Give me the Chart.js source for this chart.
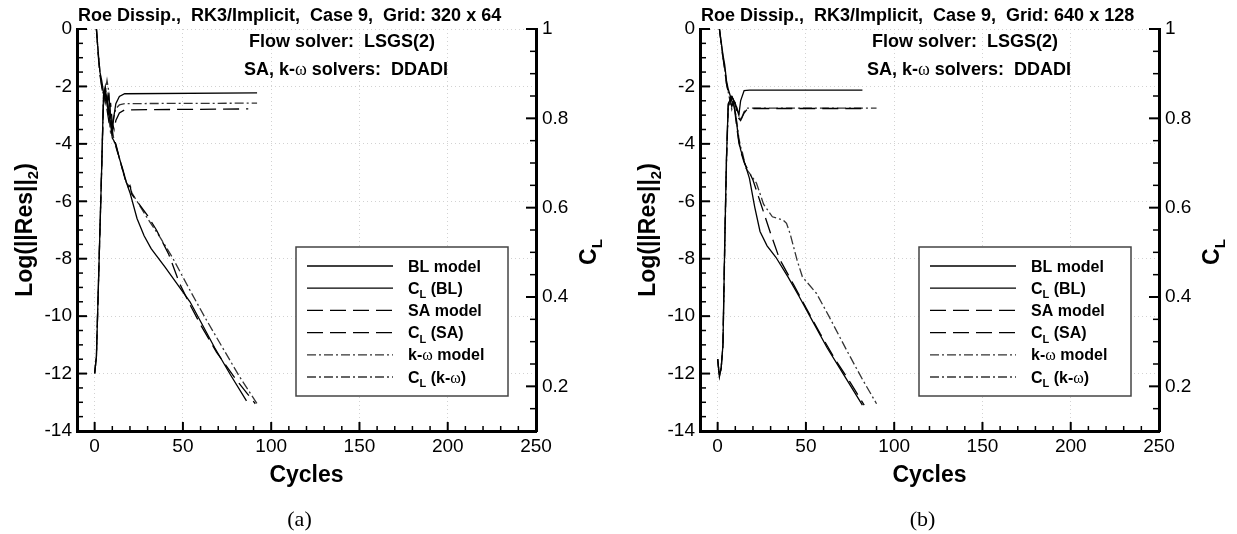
<!DOCTYPE html>
<html>
<head>
<meta charset="utf-8">
<script src="https://cdn.jsdelivr.net/npm/chart.js@4.4.1/dist/chart.umd.min.js"></script>
<style>
  html, body { margin: 0; padding: 0; background: #fff; width: 1237px; height: 534px; overflow: hidden; }
  canvas { position: absolute; top: 0; }
  #chartA { left: 0; }
  #chartB { left: 623px; }
</style>
</head>
<body>
<canvas id="chartA" width="610" height="534"></canvas>
<canvas id="chartB" width="610" height="534"></canvas>
<script>
// tick labels
const xTicks   = [0, 50, 100, 150, 200, 250];
const resTicks = [-14, -12, -10, -8, -6, -4, -2, 0];
const clTicks  = [0.2, 0.4, 0.6, 0.8, 1];

// ---- panel (a), grid 320 x 64 ----
// residuals, log10 ||Res||2
const aBLResX = [1, 2, 3, 4, 5, 6, 7, 8, 9, 10, 11, 12, 14, 16, 18, 20, 24, 28, 32, 40, 47, 54, 61, 68, 77, 86];
const aBLRes  = [0, -0.8, -1.5, -1.8, -2.2, -2.5, -2.3, -2.9, -3.3, -3.8, -3.9, -4.05, -4.5, -4.9, -5.35, -5.7, -6.6, -7.2, -7.65, -8.3, -8.9, -9.5, -10.3, -11.1, -12.05, -12.95];
const aSAResX = [1, 2, 3, 4, 5, 6, 7, 8, 9, 10, 12, 14, 16, 18, 19, 20, 21, 24, 30, 35, 42, 48, 54, 60, 69, 80, 91];
const aSARes  = [0, -0.9, -1.6, -2.0, -2.4, -2.2, -2.8, -3.2, -3.0, -3.7, -4.0, -4.5, -4.95, -5.4, -5.5, -5.45, -5.75, -6.0, -6.5, -7.0, -7.85, -8.85, -9.6, -10.3, -11.25, -12.2, -13.05];
const aKWResX = [1, 2, 3, 4, 5, 6, 7, 8, 9, 10, 11, 12, 14, 16, 18, 19, 20, 21, 24, 30, 37, 44, 54, 63, 72, 82, 92];
const aKWRes  = [0, -0.8, -1.5, -2.0, -2.3, -2.6, -2.4, -3.0, -3.6, -3.5, -3.9, -4.1, -4.5, -4.95, -5.35, -5.45, -5.4, -5.7, -6.0, -6.6, -7.25, -7.95, -9.1, -10.1, -11.05, -12.1, -13.05];
// lift coefficient
const aBLClX = [0, 1, 2, 3, 4, 5, 6, 7, 8, 9, 10, 11, 12, 14, 17, 92];
const aBLCl  = [0.229, 0.267, 0.409, 0.55, 0.691, 0.852, 0.868, 0.833, 0.852, 0.807, 0.775, 0.807, 0.833, 0.849, 0.855, 0.857];
const aSAClX = [0, 1, 2, 3, 4, 5, 6, 7, 8, 9, 10, 11, 12, 14, 17, 87];
const aSACl  = [0.229, 0.267, 0.409, 0.55, 0.691, 0.845, 0.87, 0.84, 0.80, 0.835, 0.79, 0.775, 0.795, 0.812, 0.819, 0.821];
const aKWClX = [0, 1, 2, 3, 4, 5, 6, 7, 8, 9, 10, 11, 12, 14, 17, 92];
const aKWCl  = [0.229, 0.267, 0.409, 0.55, 0.691, 0.84, 0.86, 0.885, 0.86, 0.80, 0.785, 0.805, 0.822, 0.83, 0.833, 0.834];

// ---- panel (b), grid 640 x 128 ----
const bBLResX = [1, 2, 3, 4, 5, 6, 7, 8, 9, 10, 11, 12, 13, 15, 18, 21, 24, 28, 33, 40, 46, 54, 62, 72, 82];
const bBLRes  = [0, -0.45, -0.9, -1.25, -1.8, -2.1, -2.3, -2.5, -2.6, -2.9, -3.4, -3.9, -4.2, -4.6, -5.2, -6.2, -7.05, -7.55, -7.95, -8.65, -9.3, -10.2, -11.1, -12.1, -13.1];
const bSAResX = [1, 2, 3, 4, 5, 6, 7, 8, 9, 10, 11, 12, 13, 15, 18, 20, 24, 30, 35, 43, 50, 58, 66, 75, 83];
const bSARes  = [0, -0.5, -1.0, -1.4, -1.9, -2.2, -2.4, -2.7, -2.5, -3.0, -3.5, -3.95, -4.25, -4.65, -5.0, -5.26, -6.0, -7.12, -8.0, -8.9, -9.7, -10.6, -11.45, -12.3, -13.1];
const bKWResX = [1, 2, 3, 4, 5, 6, 7, 8, 9, 10, 11, 12, 13, 14, 16, 19, 22, 26, 31, 37, 39, 41, 45, 48, 56, 63, 73, 82, 90];
const bKWRes  = [0, -0.5, -1.0, -1.4, -1.9, -2.2, -2.5, -2.8, -2.6, -2.9, -3.3, -3.8, -4.1, -4.3, -4.85, -5.1, -5.37, -6.1, -6.54, -6.65, -6.77, -7.12, -8.05, -8.63, -9.21, -10.0, -11.18, -12.2, -13.05];
const bBLClX = [0, 1, 2, 3, 4, 5, 6, 8, 10, 12, 13, 15, 18, 82];
const bBLCl  = [0.261, 0.222, 0.241, 0.293, 0.518, 0.711, 0.833, 0.849, 0.833, 0.807, 0.839, 0.862, 0.863, 0.863];
const bSAClX = [0, 1, 2, 3, 4, 5, 6, 8, 10, 12, 13, 15, 17, 84];
const bSACl  = [0.261, 0.222, 0.241, 0.293, 0.52, 0.71, 0.83, 0.85, 0.83, 0.80, 0.795, 0.812, 0.822, 0.822];
const bKWClX = [0, 1, 2, 3, 4, 5, 6, 8, 10, 12, 13, 15, 17, 90];
const bKWCl  = [0.261, 0.222, 0.241, 0.293, 0.50, 0.70, 0.825, 0.845, 0.835, 0.81, 0.795, 0.815, 0.823, 0.823];

const seriesLabels = ['BL model', 'C_L (BL)', 'SA model', 'C_L (SA)', 'k-ω model', 'C_L (k-ω)'];

const FONT = '"Liberation Sans", Arial, sans-serif';
const SERIF = '"Liberation Serif", "Times New Roman", serif';
const DASH = [16, 7];
const DASHDOT = [9, 3, 2, 3];

const pts = (xs, ys) => xs.map((x, i) => ({ x, y: ys[i] }));

// split "C_L" and omega into styled runs
function richParts(text, size, bold = true) {
  const w = bold ? 'bold ' : '';
  const parts = [];
  let s = text;
  if (s.startsWith('C_L')) {
    parts.push({ t: 'C', f: `${w}${size}px ${FONT}` });
    parts.push({ t: 'L', f: `${w}${Math.round(size * 0.66)}px ${FONT}`, dy: size * 0.28 });
    s = s.slice(3);
  }
  s.split(/(ω)/).forEach(seg => {
    if (!seg) return;
    if (seg === 'ω') parts.push({ t: 'ω', f: `${size}px ${SERIF}` });
    else parts.push({ t: seg, f: `${w}${size}px ${FONT}` });
  });
  return parts;
}

function drawRich(ctx, parts, x, y, align) {
  let total = 0;
  parts.forEach(p => { ctx.font = p.f; p.w = ctx.measureText(p.t).width; total += p.w; });
  let cx = align === 'center' ? x - total / 2 : x;
  ctx.textBaseline = 'alphabetic';
  ctx.textAlign = 'left';
  parts.forEach(p => { ctx.font = p.f; ctx.fillText(p.t, cx, y + (p.dy || 0)); cx += p.w; });
}

// inward ticks, in-plot notes, axis titles, legend box, caption
const decor = {
  id: 'decor',
  afterDraw(chart, args, opts) {
    const { ctx, chartArea: area } = chart;
    const xs = chart.scales.x, ys = chart.scales.y, y2 = chart.scales.y2;
    const L = area.left;
    ctx.save();
    ctx.strokeStyle = '#000';
    ctx.fillStyle = '#000';

    // ticks pointing into the plot
    for (let v = 0; v <= 250; v += 10) {
      const px = xs.getPixelForValue(v), major = v % 50 === 0;
      ctx.lineWidth = major ? 2 : 1.5;
      ctx.beginPath(); ctx.moveTo(px, area.bottom); ctx.lineTo(px, area.bottom - (major ? 9 : 5)); ctx.stroke();
    }
    for (let k = -28; k <= 0; k++) {
      const py = ys.getPixelForValue(k / 2), major = k % 4 === 0;
      ctx.lineWidth = major ? 2 : 1.5;
      ctx.beginPath(); ctx.moveTo(area.left, py); ctx.lineTo(area.left + (major ? 10 : 6), py); ctx.stroke();
    }
    for (let k = 3; k <= 20; k++) {
      const py = y2.getPixelForValue(k / 20), major = k % 4 === 0;
      ctx.lineWidth = major ? 2 : 1.5;
      ctx.beginPath(); ctx.moveTo(area.right, py); ctx.lineTo(area.right - (major ? 10 : 6), py); ctx.stroke();
    }

    // notes at the top of the plot
    drawRich(ctx, richParts(opts.title, 18), L + 1, 20.5, 'left');
    drawRich(ctx, richParts('Flow solver:  LSGS(2)', 18), L + 172, 47, 'left');
    drawRich(ctx, richParts('SA, k-ω solvers:  DDADI', 18), L + 167, 75, 'left');

    // axis titles
    drawRich(ctx, richParts('Cycles', 23), (area.left + area.right) / 2, 482, 'center');
    const midY = (area.top + area.bottom) / 2;
    ctx.save();
    ctx.translate(24, midY);
    ctx.rotate(-Math.PI / 2);
    drawRich(ctx, [
      { t: 'Log(||Res||', f: `bold 23px ${FONT}` },
      { t: '2', f: `bold 15px ${FONT}`, dy: 6 },
      { t: ')', f: `bold 23px ${FONT}` }
    ], 0, 8, 'center');
    ctx.restore();
    ctx.save();
    ctx.translate(area.right + 52, midY + 22);
    ctx.rotate(-Math.PI / 2);
    drawRich(ctx, richParts('C_L', 23), 0, 8, 'center');
    ctx.restore();

    // legend box
    const bx = L + 219, by = 247, bw = 212, bh = 149;
    ctx.fillStyle = '#fff';
    ctx.fillRect(bx, by, bw, bh);
    ctx.strokeStyle = '#444';
    ctx.lineWidth = 1.5;
    ctx.strokeRect(bx, by, bw, bh);
    ctx.fillStyle = '#000';
    chart.data.datasets.forEach((ds, i) => {
      const yy = 266 + i * 22.2;
      ctx.strokeStyle = ds.borderColor;
      ctx.lineWidth = ds.borderWidth;
      ctx.setLineDash(ds.borderDash || []);
      ctx.beginPath(); ctx.moveTo(L + 230, yy); ctx.lineTo(L + 316, yy); ctx.stroke();
      ctx.setLineDash([]);
      drawRich(ctx, richParts(ds.label, 16), L + 331, yy + 5.5, 'left');
    });

    // caption under the panel
    ctx.font = `22px ${SERIF}`;
    ctx.textAlign = 'center';
    ctx.textBaseline = 'alphabetic';
    ctx.fillText(opts.caption, (area.left + area.right) / 2 - 7, 526);
    ctx.restore();
  }
};

function makeChart(id, title, caption, series) {
  const styles = [
    { dash: [], color: '#000' }, { dash: [], color: '#000' },
    { dash: DASH, color: '#000' }, { dash: DASH, color: '#000' },
    { dash: DASHDOT, color: '#333' }, { dash: DASHDOT, color: '#333' }
  ];
  const datasets = series.map((s, i) => ({
    label: seriesLabels[i],
    data: pts(s[0], s[1]),
    yAxisID: i % 2 === 0 ? 'y' : 'y2',
    borderColor: styles[i].color,
    borderDash: styles[i].dash,
    borderWidth: 1.3,
    pointRadius: 0,
    tension: 0,
    fill: false
  }));

  const tickFont = { family: FONT, size: 19 };
  const gridStyle = { color: '#d2d2d2', lineWidth: 1, drawTicks: false };
  const borderStyle = { color: '#000', width: 3, dash: [1, 3] };

  return new Chart(document.getElementById(id), {
    type: 'line',
    data: { datasets },
    options: {
      responsive: false,
      animation: false,
      layout: { padding: { top: 29, left: 0, right: 0, bottom: 0 } },
      plugins: { legend: { display: false }, tooltip: { enabled: false }, decor: { title, caption } },
      scales: {
        x: {
          type: 'linear', min: -10, max: 250,
          afterBuildTicks: s => { s.ticks = xTicks.map(v => ({ value: v })); },
          afterFit: s => { s.height = 103; },
          grid: gridStyle, border: borderStyle,
          ticks: { color: '#000', font: tickFont, padding: 4, maxRotation: 0, autoSkip: false }
        },
        y: {
          type: 'linear', position: 'left', min: -14, max: 0,
          afterBuildTicks: s => { s.ticks = resTicks.map(v => ({ value: v })); },
          afterFit: s => { s.width = 77; },
          grid: gridStyle, border: borderStyle,
          ticks: { color: '#000', font: tickFont, padding: 5, callback: v => String(v) }
        },
        y2: {
          type: 'linear', position: 'right', min: 0.1, max: 1,
          afterBuildTicks: s => { s.ticks = clTicks.map(v => ({ value: v })); },
          afterFit: s => { s.width = 74; },
          grid: { drawOnChartArea: false, drawTicks: false },
          border: { color: '#000', width: 3 },
          ticks: { color: '#000', font: tickFont, padding: 6, callback: v => String(v) }
        }
      }
    },
    plugins: [decor]
  });
}

makeChart('chartA', 'Roe Dissip.,  RK3/Implicit,  Case 9,  Grid: 320 x 64', '(a)', [
  [aBLResX, aBLRes], [aBLClX, aBLCl],
  [aSAResX, aSARes], [aSAClX, aSACl],
  [aKWResX, aKWRes], [aKWClX, aKWCl]
]);
makeChart('chartB', 'Roe Dissip.,  RK3/Implicit,  Case 9,  Grid: 640 x 128', '(b)', [
  [bBLResX, bBLRes], [bBLClX, bBLCl],
  [bSAResX, bSARes], [bSAClX, bSACl],
  [bKWResX, bKWRes], [bKWClX, bKWCl]
]);
</script>
</body>
</html>
